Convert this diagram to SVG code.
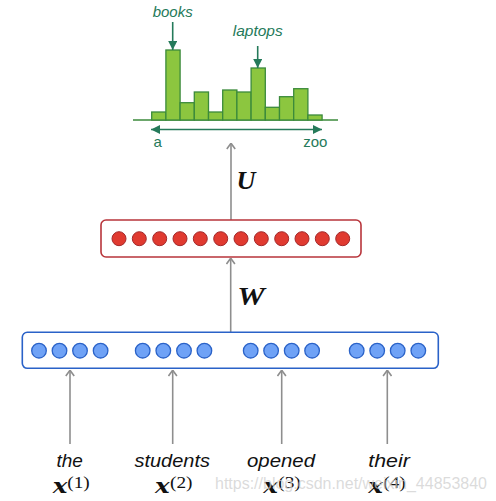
<svg xmlns="http://www.w3.org/2000/svg" width="496" height="501" viewBox="0 0 496 501">
<style>
.bar{fill:#8cc63f;stroke:#3b8a3b;stroke-width:1.3}
.glab{font-family:"Liberation Sans",Arial,sans-serif;fill:#257a5a}
.rc{fill:#e03a30;stroke:#a3282a;stroke-width:1}
.bc{fill:#6fa2f6;stroke:#2a62c8;stroke-width:1.3}
.word{font-family:"Liberation Sans",Arial,sans-serif;font-style:italic;font-size:19px;fill:#111}
.mx{font-family:"DejaVu Serif","Liberation Serif",serif;font-style:italic;font-weight:bold;font-size:20px;fill:#111}
.sup{font-family:"Liberation Serif","Times New Roman",serif;font-size:16px;fill:#111}
.mat{font-family:"Liberation Serif","Times New Roman",serif;font-style:italic;font-weight:bold;font-size:25px;fill:#111}
.ga{stroke:#8e8e8e;stroke-width:1.6;fill:none}
.gr{stroke:#257a5a;stroke-width:1.6;fill:none}
</style>
<defs>
<marker id="gh" viewBox="0 0 7 10" refX="6.5" refY="5" markerWidth="7" markerHeight="10" markerUnits="userSpaceOnUse" orient="auto">
<path d="M0.5,0.8 L6.3,5 L0.5,9.2" fill="none" stroke="#8e8e8e" stroke-width="1.6"/>
</marker>
<marker id="gt" viewBox="0 0 10 10" refX="10" refY="5" markerWidth="9" markerHeight="9" markerUnits="userSpaceOnUse" orient="auto-start-reverse">
<path d="M0,0 L10,5 L0,10 Z" fill="#257a5a"/>
</marker>
</defs>
<rect width="496" height="501" fill="#fff"/>

<g id="histogram">
<line x1="133" y1="120" x2="338" y2="120" stroke="#3b8a3b" stroke-width="1.6"/>
<rect class="bar" x="151.7" y="112" width="14.2" height="8"/>
<rect class="bar" x="165.9" y="50" width="14.2" height="70"/>
<rect class="bar" x="180.1" y="102.7" width="14.2" height="17.3"/>
<rect class="bar" x="194.3" y="92" width="14.2" height="28"/>
<rect class="bar" x="208.5" y="112" width="14.2" height="8"/>
<rect class="bar" x="222.7" y="90" width="14.2" height="30"/>
<rect class="bar" x="236.9" y="92" width="14.2" height="28"/>
<rect class="bar" x="251.1" y="68" width="14.2" height="52"/>
<rect class="bar" x="265.3" y="107.3" width="14.2" height="12.7"/>
<rect class="bar" x="279.5" y="96.7" width="14.2" height="23.3"/>
<rect class="bar" x="293.7" y="88.7" width="14.2" height="31.3"/>
<rect class="bar" x="307.9" y="115" width="14.2" height="5"/>
<text class="glab" x="172.7" y="17" font-size="15" font-style="italic" text-anchor="middle">books</text>
<text class="glab" x="257.7" y="36" font-size="15.5" font-style="italic" text-anchor="middle">laptops</text>
<text class="glab" x="157.7" y="147" font-size="15" text-anchor="middle">a</text>
<text class="glab" x="315.3" y="147" font-size="15" text-anchor="middle">zoo</text>
<line class="gr" x1="172.7" y1="22" x2="172.7" y2="50" marker-end="url(#gt)"/>
<line class="gr" x1="257.7" y1="46" x2="257.7" y2="68" marker-end="url(#gt)"/>
<line class="gr" x1="151" y1="129.5" x2="322" y2="129.5" marker-start="url(#gt)" marker-end="url(#gt)"/>
</g>

<g id="connectors">
<line class="ga" x1="231" y1="220" x2="231" y2="143" marker-end="url(#gh)"/>
<line class="ga" x1="230.7" y1="332" x2="230.7" y2="258" marker-end="url(#gh)"/>
<line class="ga" x1="70" y1="444" x2="70" y2="370" marker-end="url(#gh)"/>
<line class="ga" x1="172.7" y1="444" x2="172.7" y2="370" marker-end="url(#gh)"/>
<line class="ga" x1="281.7" y1="444" x2="281.7" y2="370" marker-end="url(#gh)"/>
<line class="ga" x1="387.3" y1="444" x2="387.3" y2="370" marker-end="url(#gh)"/>
<text class="mat" x="236.5" y="189" textLength="19" lengthAdjust="spacingAndGlyphs">U</text>
<text class="mat" x="237.3" y="305" textLength="27.5" lengthAdjust="spacingAndGlyphs">W</text>
</g>

<g id="hidden-layer">
<rect x="101" y="220" width="260" height="37" rx="5" fill="#fff" stroke="#b8353b" stroke-width="1.6"/>
<circle class="rc" cx="119" cy="238.7" r="7"/>
<circle class="rc" cx="139.3" cy="238.7" r="7"/>
<circle class="rc" cx="159.7" cy="238.7" r="7"/>
<circle class="rc" cx="180" cy="238.7" r="7"/>
<circle class="rc" cx="200.3" cy="238.7" r="7"/>
<circle class="rc" cx="220.7" cy="238.7" r="7"/>
<circle class="rc" cx="241" cy="238.7" r="7"/>
<circle class="rc" cx="261.3" cy="238.7" r="7"/>
<circle class="rc" cx="281.7" cy="238.7" r="7"/>
<circle class="rc" cx="302" cy="238.7" r="7"/>
<circle class="rc" cx="322.3" cy="238.7" r="7"/>
<circle class="rc" cx="342.7" cy="238.7" r="7"/>
</g>

<g id="input-layer">
<rect x="22.3" y="332.3" width="416" height="36" rx="5" fill="#fff" stroke="#2a62c8" stroke-width="1.6"/>
<circle class="bc" cx="39" cy="350.7" r="7.3"/>
<circle class="bc" cx="59.5" cy="350.7" r="7.3"/>
<circle class="bc" cx="80" cy="350.7" r="7.3"/>
<circle class="bc" cx="100.6" cy="350.7" r="7.3"/>
<circle class="bc" cx="142.7" cy="350.7" r="7.3"/>
<circle class="bc" cx="163.3" cy="350.7" r="7.3"/>
<circle class="bc" cx="184" cy="350.7" r="7.3"/>
<circle class="bc" cx="204.4" cy="350.7" r="7.3"/>
<circle class="bc" cx="250.7" cy="350.7" r="7.3"/>
<circle class="bc" cx="271.1" cy="350.7" r="7.3"/>
<circle class="bc" cx="291.7" cy="350.7" r="7.3"/>
<circle class="bc" cx="312.1" cy="350.7" r="7.3"/>
<circle class="bc" cx="356.7" cy="350.7" r="7.3"/>
<circle class="bc" cx="377.2" cy="350.7" r="7.3"/>
<circle class="bc" cx="397.7" cy="350.7" r="7.3"/>
<circle class="bc" cx="418.3" cy="350.7" r="7.3"/>
</g>

<g id="word-1">
<text class="word" x="69.7" y="467" text-anchor="middle">the</text>
<text class="mx" x="52.7" y="493" textLength="14.6" lengthAdjust="spacingAndGlyphs">x</text>
<text class="sup" x="67.3" y="488" textLength="22.5" lengthAdjust="spacingAndGlyphs">(1)</text>
</g>
<g id="word-2">
<text class="word" x="172.2" y="467" text-anchor="middle" textLength="75.5" lengthAdjust="spacingAndGlyphs">students</text>
<text class="mx" x="155" y="493" textLength="14.6" lengthAdjust="spacingAndGlyphs">x</text>
<text class="sup" x="170" y="488" textLength="22.5" lengthAdjust="spacingAndGlyphs">(2)</text>
</g>
<g id="word-3">
<text class="word" x="281" y="467" text-anchor="middle" textLength="68" lengthAdjust="spacingAndGlyphs">opened</text>
<text class="mx" x="263.3" y="493" textLength="14.6" lengthAdjust="spacingAndGlyphs">x</text>
<text class="sup" x="278.3" y="488" textLength="22.5" lengthAdjust="spacingAndGlyphs">(3)</text>
</g>
<g id="word-4">
<text class="word" x="389" y="467" text-anchor="middle" textLength="41.5" lengthAdjust="spacingAndGlyphs">their</text>
<text class="mx" x="368.3" y="493" textLength="14.6" lengthAdjust="spacingAndGlyphs">x</text>
<text class="sup" x="383.3" y="488" textLength="22.5" lengthAdjust="spacingAndGlyphs">(4)</text>
</g>

<text x="215" y="489" font-family="Liberation Sans,Arial,sans-serif" font-size="16" fill="#cfcfcf" fill-opacity="0.75" textLength="272" lengthAdjust="spacingAndGlyphs">https://blog.csdn.net/weixin_44853840</text>
</svg>
